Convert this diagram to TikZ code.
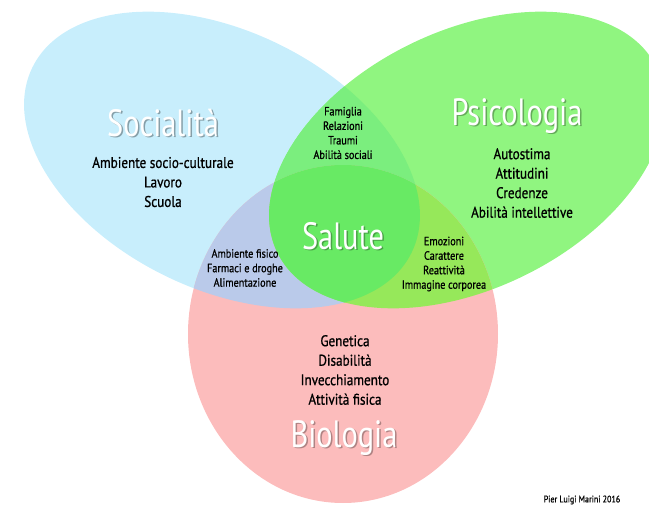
\documentclass[tikz,border=0pt]{standalone}
\usepackage{fontspec}
\newfontfamily\titlefont[FakeStretch=0.8]{PT Sans}
\newfontfamily\itemfont[FakeStretch=0.85,FakeBold=0.8]{PT Sans}
\definecolor{socblue}{HTML}{C8EEFC}
\definecolor{psigreen}{HTML}{90F580}
\definecolor{biopink}{HTML}{FCBCBC}
\definecolor{socpsi}{HTML}{7BEE7E}
\definecolor{socbio}{HTML}{BACAEA}
\definecolor{psibio}{HTML}{96E85A}
\definecolor{allthree}{HTML}{68EA64}
\tikzset{
  socshape/.style={rotate around={-26:(222,160)}},
  psishape/.style={rotate around={26:(467,160)}},
  bigname/.style={white, inner sep=0, font=\titlefont\fontsize{38}{38}\selectfont},
  shade/.style={bigname, opacity=.55},
  items/.style={black, align=center, inner sep=0, font=\itemfont\fontsize{15.5}{19.5}\selectfont},
  smallitems/.style={items, font=\itemfont\fontsize{12}{14.5}\selectfont}
}
\begin{document}
\begin{tikzpicture}[x=1pt,y=-1pt]
\useasboundingbox (0,0) rectangle (649,506);
% ellipses
\fill[socblue, socshape] (222,160) ellipse [x radius=211pt, y radius=129pt];
\fill[psigreen, psishape] (467,160) ellipse [x radius=211pt, y radius=129pt];
\fill[biopink] (343,334) ellipse [x radius=155pt, y radius=169pt];
% overlaps
\begin{scope}
    \clip[socshape] (222,160) ellipse [x radius=211pt, y radius=129pt];
    \fill[socpsi, psishape] (467,160) ellipse [x radius=211pt, y radius=129pt];
    \fill[socbio] (343,334) ellipse [x radius=155pt, y radius=169pt];
\end{scope}
\begin{scope}
    \clip[psishape] (467,160) ellipse [x radius=211pt, y radius=129pt];
    \fill[psibio] (343,334) ellipse [x radius=155pt, y radius=169pt];
\end{scope}
\begin{scope}
    \clip[socshape] (222,160) ellipse [x radius=211pt, y radius=129pt];
    \clip[psishape] (467,160) ellipse [x radius=211pt, y radius=129pt];
    \fill[allthree] (343,334) ellipse [x radius=155pt, y radius=169pt];
\end{scope}

%names
\node[shade, socblue!40!black] (socShade) at (164.5,124.5) {Socialità};
\node[bigname] (soc) at (163,123) {Socialità};
\node[shade, psigreen!45!black] (psiShade) at (518.5,117.5) {Psicologia};
\node[bigname] (psi) at (517,116) {Psicologia};
\node[shade, allthree!45!black] (salShade) at (344.5,237.5) {Salute};
\node[bigname] (sal) at (343,236) {Salute};
\node[shade, biopink!45!black] (bioShade) at (345.5,439.5) {Biologia};
\node[bigname] (bio) at (344,438) {Biologia};

%items
\node[items] (socItems) at (163,182) {Ambiente socio-culturale\\Lavoro\\Scuola};
\node[items] (psiItems) at (522,183) {Autostima\\Attitudini\\Credenze\\Abilità intellettive};
\node[items] (bioItems) at (345,370) {Genetica\\Disabilità\\Invecchiamento\\Attività fisica};
\node[smallitems] (socPsi) at (343,133) {Famiglia\\Relazioni\\Traumi\\Abilità sociali};
\node[smallitems] (socBio) at (245,268) {Ambiente fisico\\Farmaci e droghe\\Alimentazione};
\node[smallitems] (psiBio) at (444,264) {Emozioni\\Carattere\\Reattività\\Immagine corporea};
\node[black, inner sep=0, font=\itemfont\fontsize{9.5}{10}\selectfont] (credit) at (582,500) {Pier Luigi Marini 2016};
\end{tikzpicture}
\end{document}
